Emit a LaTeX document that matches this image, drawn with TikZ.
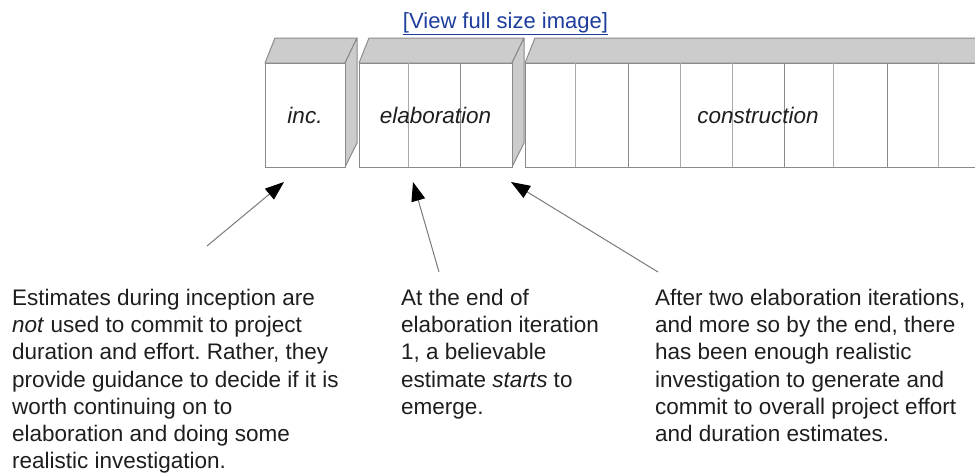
\documentclass[tikz,border=0pt]{standalone}
\usepackage{fontspec}
\setmainfont{Liberation Sans}
\usetikzlibrary{arrows.meta}
\frenchspacing

\definecolor{caragris}{HTML}{CCCCCC}
\definecolor{bordegris}{HTML}{8A8A8A}
\definecolor{lineagris}{HTML}{ABABAB}
\definecolor{flechagris}{HTML}{7A7A7A}
\definecolor{enlace}{HTML}{1D3E9C}
\definecolor{texto}{HTML}{1E1E1E}

\tikzset{
	cara/.style={draw=bordegris, fill=caragris, line width=1pt, line join=round},
	frente/.style={draw=bordegris, fill=white, line width=1pt},
	iter/.style={draw=lineagris, line width=1pt},
	iterfuerte/.style={draw=bordegris, line width=1pt},
	flecha/.style={draw=flechagris, line width=1pt, -{Triangle[length=19pt, width=14pt, color=black]}},
	nota/.style={anchor=north west, inner sep=0pt, align=left, text=texto, font=\fontsize{22.5}{27.2}\selectfont},
	fase/.style={anchor=base, inner sep=0pt, text=texto, font=\fontsize{22.5}{26}\selectfont\itshape},
}

\begin{document}
\begin{tikzpicture}[x=1pt, y=-1pt]
\useasboundingbox (0,0) rectangle (975,474);
\clip (0,0) rectangle (975,474);

\node[anchor=base, inner sep=0pt, text=enlace, font=\fontsize{22}{26}\selectfont] (enlace) at (505.5,28) {\underline{[View full size image]}};

% Cajas de las fases
	\foreach \a/\b in {265/345, 359/512, 525/1010} {
		\draw[cara] (\a,63) -- ({\a+10},38) -- ({\b+12},38) -- (\b,63) -- cycle;
		\draw[cara] (\b,63) -- ({\b+12},38) -- ({\b+12},143) -- (\b,167) -- cycle;
		\draw[frente] (\a,63) rectangle (\b,167);
	}

% Iteraciones
	\foreach \x in {408, 575, 680, 732, 833, 938}
		\draw[iter] (\x,63) -- (\x,167);

	\foreach \x in {460, 628, 784, 887}
		\draw[iterfuerte] (\x,63) -- (\x,167);

\node[fase] (inc) at (305,123) {inc.};
\node[fase] (elab) at (435.5,123) {elaboration};
\node[fase] (cons) at (758,123) {construction};

% Flechas
\coordinate (c1) at (207,246);
\coordinate (p1) at (284,182);
\coordinate (c2) at (439,272);
\coordinate (p2) at (413,182);
\coordinate (c3) at (658,272);
\coordinate (p3) at (511,182);

	\draw[flecha] (c1) -- (p1);
	\draw[flecha] (c2) -- (p2);
	\draw[flecha] (c3) -- (p3);

% Notas
\node[nota] (n1) at (12,289) {Estimates during inception are\\
	\textit{not} used to commit to project\\
	duration and effort. Rather, they\\
	provide guidance to decide if it is\\
	worth continuing on to\\
	elaboration and doing some\\
	realistic investigation.};

\node[nota] (n2) at (401,289) {At the end of\\
	elaboration iteration\\
	1, a believable\\
	estimate \textit{starts} to\\
	emerge.};

\node[nota] (n3) at (655,289) {After two elaboration iterations,\\
	and more so by the end, there\\
	has been enough realistic\\
	investigation to generate and\\
	commit to overall project effort\\
	and duration estimates.};
\end{tikzpicture}
\end{document}
